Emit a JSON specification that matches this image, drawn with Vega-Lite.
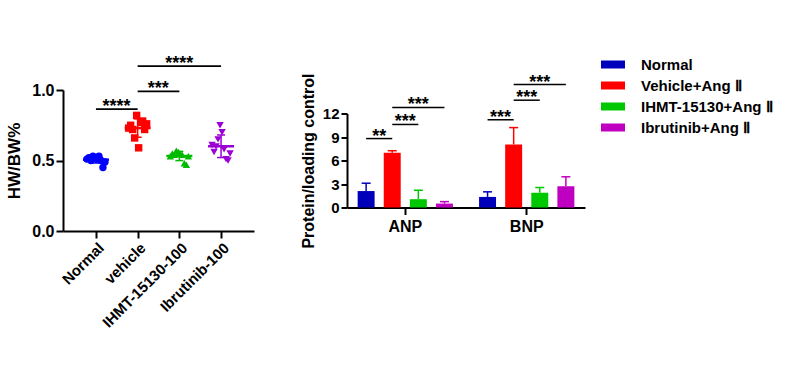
{
  "$schema": "https://vega.github.io/schema/vega-lite/v6.json",
  "background": "white",
  "padding": {"left": 5, "top": 55, "right": 5, "bottom": 5},
  "config": {
    "view": {"stroke": null},
    "axis": {"grid": false, "labelFont": "Liberation Sans", "titleFont": "Liberation Sans", "labelFontWeight": "bold", "titleFontWeight": "bold", "labelColor": "black", "titleColor": "black", "domainColor": "black", "tickColor": "black", "domainWidth": 2, "tickWidth": 2},
    "text": {"font": "Liberation Sans"}
  },
  "datasets": {
    "hw": [
      {"group": "Normal", "rep": 1, "value": 0.51},
      {"group": "Normal", "rep": 2, "value": 0.52},
      {"group": "Normal", "rep": 3, "value": 0.50},
      {"group": "Normal", "rep": 4, "value": 0.53},
      {"group": "Normal", "rep": 5, "value": 0.52},
      {"group": "Normal", "rep": 6, "value": 0.51},
      {"group": "Normal", "rep": 7, "value": 0.53},
      {"group": "Normal", "rep": 8, "value": 0.50},
      {"group": "Normal", "rep": 9, "value": 0.45},
      {"group": "Normal", "rep": 10, "value": 0.49},
      {"group": "vehicle", "rep": 1, "value": 0.73},
      {"group": "vehicle", "rep": 2, "value": 0.75},
      {"group": "vehicle", "rep": 3, "value": 0.72},
      {"group": "vehicle", "rep": 4, "value": 0.66},
      {"group": "vehicle", "rep": 5, "value": 0.82},
      {"group": "vehicle", "rep": 6, "value": 0.59},
      {"group": "vehicle", "rep": 7, "value": 0.77},
      {"group": "vehicle", "rep": 8, "value": 0.78},
      {"group": "vehicle", "rep": 9, "value": 0.72},
      {"group": "vehicle", "rep": 10, "value": 0.76},
      {"group": "IHMT-15130-100", "rep": 1, "value": 0.53},
      {"group": "IHMT-15130-100", "rep": 2, "value": 0.55},
      {"group": "IHMT-15130-100", "rep": 3, "value": 0.54},
      {"group": "IHMT-15130-100", "rep": 4, "value": 0.57},
      {"group": "IHMT-15130-100", "rep": 5, "value": 0.56},
      {"group": "IHMT-15130-100", "rep": 6, "value": 0.55},
      {"group": "IHMT-15130-100", "rep": 7, "value": 0.54},
      {"group": "IHMT-15130-100", "rep": 8, "value": 0.48},
      {"group": "IHMT-15130-100", "rep": 9, "value": 0.47},
      {"group": "IHMT-15130-100", "rep": 10, "value": 0.53},
      {"group": "Ibrutinib-100", "rep": 1, "value": 0.61},
      {"group": "Ibrutinib-100", "rep": 2, "value": 0.56},
      {"group": "Ibrutinib-100", "rep": 3, "value": 0.60},
      {"group": "Ibrutinib-100", "rep": 4, "value": 0.65},
      {"group": "Ibrutinib-100", "rep": 5, "value": 0.75},
      {"group": "Ibrutinib-100", "rep": 6, "value": 0.70},
      {"group": "Ibrutinib-100", "rep": 7, "value": 0.58},
      {"group": "Ibrutinib-100", "rep": 8, "value": 0.51},
      {"group": "Ibrutinib-100", "rep": 9, "value": 0.50},
      {"group": "Ibrutinib-100", "rep": 10, "value": 0.55}
    ],
    "sigL": [
      {"id": "a", "group": "Normal", "y": 0.865},
      {"id": "a", "group": "vehicle", "y": 0.865},
      {"id": "b", "group": "vehicle", "y": 0.99},
      {"id": "b", "group": "IHMT-15130-100", "y": 0.99},
      {"id": "c", "group": "vehicle", "y": 1.17},
      {"id": "c", "group": "Ibrutinib-100", "y": 1.17}
    ],
    "sigLtext": [
      {"group": "Normal", "y": 0.865, "label": "****", "shift": "half"},
      {"group": "vehicle", "y": 0.99, "label": "***", "shift": "half"},
      {"group": "IHMT-15130-100", "y": 1.17, "label": "****", "shift": "none"}
    ],
    "bars": [
      {"marker": "ANP", "series": "Normal", "value": 2.1, "upper": 3.1},
      {"marker": "ANP", "series": "Vehicle+Ang Ⅱ", "value": 7.0, "upper": 7.25},
      {"marker": "ANP", "series": "IHMT-15130+Ang Ⅱ", "value": 1.06, "upper": 2.2},
      {"marker": "ANP", "series": "Ibrutinib+Ang Ⅱ", "value": 0.5, "upper": 0.75},
      {"marker": "BNP", "series": "Normal", "value": 1.35, "upper": 2.0},
      {"marker": "BNP", "series": "Vehicle+Ang Ⅱ", "value": 8.05, "upper": 10.2},
      {"marker": "BNP", "series": "IHMT-15130+Ang Ⅱ", "value": 1.88, "upper": 2.55},
      {"marker": "BNP", "series": "Ibrutinib+Ang Ⅱ", "value": 2.72, "upper": 3.92}
    ],
    "sigR": [
      {"id": "a", "marker": "ANP", "series": "Normal", "y": 8.8},
      {"id": "a", "marker": "ANP", "series": "Vehicle+Ang Ⅱ", "y": 8.8},
      {"id": "b", "marker": "ANP", "series": "Vehicle+Ang Ⅱ", "y": 10.6},
      {"id": "b", "marker": "ANP", "series": "IHMT-15130+Ang Ⅱ", "y": 10.6},
      {"id": "c", "marker": "ANP", "series": "Vehicle+Ang Ⅱ", "y": 12.77},
      {"id": "c", "marker": "ANP", "series": "Ibrutinib+Ang Ⅱ", "y": 12.77},
      {"id": "d", "marker": "BNP", "series": "Normal", "y": 11.2},
      {"id": "d", "marker": "BNP", "series": "Vehicle+Ang Ⅱ", "y": 11.2},
      {"id": "e", "marker": "BNP", "series": "Vehicle+Ang Ⅱ", "y": 13.7},
      {"id": "e", "marker": "BNP", "series": "IHMT-15130+Ang Ⅱ", "y": 13.7},
      {"id": "f", "marker": "BNP", "series": "Vehicle+Ang Ⅱ", "y": 15.7},
      {"id": "f", "marker": "BNP", "series": "Ibrutinib+Ang Ⅱ", "y": 15.7}
    ],
    "sigRtext": [
      {"marker": "ANP", "series": "Normal", "y": 8.8, "label": "**", "shift": "half"},
      {"marker": "ANP", "series": "Vehicle+Ang Ⅱ", "y": 10.6, "label": "***", "shift": "half"},
      {"marker": "ANP", "series": "IHMT-15130+Ang Ⅱ", "y": 12.77, "label": "***", "shift": "none"},
      {"marker": "BNP", "series": "Normal", "y": 11.2, "label": "***", "shift": "half"},
      {"marker": "BNP", "series": "Vehicle+Ang Ⅱ", "y": 13.7, "label": "***", "shift": "half"},
      {"marker": "BNP", "series": "IHMT-15130+Ang Ⅱ", "y": 15.7, "label": "***", "shift": "none"}
    ]
  },
  "spacing": 93,
  "bounds": "flush",
  "center": true,
  "resolve": {"scale": {"color": "independent", "x": "independent", "y": "independent", "xOffset": "independent"}, "legend": {"color": "independent"}},
  "hconcat": [
    {
      "width": 191,
      "height": 141,
      "layer": [
        {
          "data": {"name": "hw"},
          "mark": {"type": "point", "filled": true, "opacity": 1, "size": 55},
          "encoding": {
            "x": {"field": "group", "type": "nominal", "title": null, "sort": null,
              "scale": {"type": "point", "domain": ["Normal", "vehicle", "IHMT-15130-100", "Ibrutinib-100"], "padding": 0.79},
              "axis": {"labelAngle": -45, "labelFontSize": 15, "tickSize": 7, "labelPadding": 2}},
            "xOffset": {"field": "rep", "type": "nominal", "scale": {"type": "point", "range": [-10, 10]}},
            "y": {"field": "value", "type": "quantitative", "title": "HW/BW%",
              "scale": {"domain": [0, 1]},
              "axis": {"values": [0, 0.25, 0.5, 0.75, 1], "labelExpr": "datum.value == 0.25 || datum.value == 0.75 ? '' : format(datum.value, '.1f')", "labelFontSize": 16, "tickSize": 7, "labelPadding": 2, "titleFontSize": 17, "titlePadding": 8}},
            "color": {"field": "group", "type": "nominal", "legend": null,
              "scale": {"domain": ["Normal", "vehicle", "IHMT-15130-100", "Ibrutinib-100"], "range": ["#0000FF", "#FF0000", "#00BB00", "#9B00D4"]}},
            "shape": {"field": "group", "type": "nominal", "legend": null,
              "scale": {"domain": ["Normal", "vehicle", "IHMT-15130-100", "Ibrutinib-100"], "range": ["circle", "square", "triangle-up", "triangle-down"]}}
          }
        },
        {
          "data": {"name": "hw"},
          "mark": {"type": "errorbar", "extent": "stdev", "thickness": 1.5, "rule": {"opacity": 1}, "ticks": {"size": 8, "thickness": 1.5, "opacity": 1}},
          "encoding": {
            "x": {"field": "group", "type": "nominal", "title": null},
            "y": {"field": "value", "type": "quantitative", "title": "HW/BW%"},
            "color": {"field": "group", "type": "nominal", "legend": null}
          }
        },
        {
          "data": {"name": "hw"},
          "mark": {"type": "tick", "size": 26, "thickness": 2.5, "opacity": 1},
          "encoding": {
            "x": {"field": "group", "type": "nominal", "title": null},
            "y": {"aggregate": "mean", "field": "value", "type": "quantitative", "title": "HW/BW%"},
            "color": {"field": "group", "type": "nominal", "legend": null}
          }
        },
        {
          "data": {"name": "sigL"},
          "mark": {"type": "line", "color": "black", "strokeWidth": 1.8},
          "encoding": {
            "x": {"field": "group", "type": "nominal", "title": null},
            "y": {"field": "y", "type": "quantitative", "title": "HW/BW%"},
            "detail": {"field": "id", "type": "nominal"}
          }
        },
        {
          "data": {"name": "sigLtext"},
          "transform": [{"filter": "datum.shift == 'half'"}],
          "mark": {"type": "text", "fontSize": 18, "fontWeight": "bold", "baseline": "alphabetic", "dx": 20.5, "dy": 3, "color": "black"},
          "encoding": {
            "x": {"field": "group", "type": "nominal", "title": null},
            "y": {"field": "y", "type": "quantitative", "title": "HW/BW%"},
            "text": {"field": "label"}
          }
        },
        {
          "data": {"name": "sigLtext"},
          "transform": [{"filter": "datum.shift == 'none'"}],
          "mark": {"type": "text", "fontSize": 18, "fontWeight": "bold", "baseline": "alphabetic", "dy": 3, "color": "black"},
          "encoding": {
            "x": {"field": "group", "type": "nominal", "title": null},
            "y": {"field": "y", "type": "quantitative", "title": "HW/BW%"},
            "text": {"field": "label"}
          }
        }
      ]
    },
    {
      "width": 238,
      "height": 94,
      "layer": [
        {
          "data": {"name": "bars"},
          "mark": {"type": "bar", "opacity": 1},
          "encoding": {
            "x": {"field": "marker", "type": "nominal", "title": null,
              "scale": {"domain": ["ANP", "BNP"], "paddingInner": 0.14, "paddingOuter": 0.05},
              "axis": {"labelAngle": 0, "labelFontSize": 16, "tickSize": 7, "labelPadding": 4}},
            "xOffset": {"field": "series", "type": "nominal",
              "scale": {"domain": ["Normal", "Vehicle+Ang Ⅱ", "IHMT-15130+Ang Ⅱ", "Ibrutinib+Ang Ⅱ"], "paddingInner": 0.35, "paddingOuter": 0.175}},
            "y": {"field": "value", "type": "quantitative", "title": "Protein/loading control",
              "scale": {"domain": [0, 12], "nice": false},
              "axis": {"values": [0, 3, 6, 9, 12], "tickCount": 5, "labelOverlap": false, "labelFontSize": 15, "tickSize": 6, "labelPadding": 2, "titleFontSize": 16, "titlePadding": 6}},
            "color": {"field": "series", "type": "nominal",
              "scale": {"domain": ["Normal", "Vehicle+Ang Ⅱ", "IHMT-15130+Ang Ⅱ", "Ibrutinib+Ang Ⅱ"], "range": ["#0000BB", "#FF0000", "#00C800", "#C000C0"]},
              "legend": {"orient": "none", "legendX": 258, "legendY": -57, "title": null, "padding": 0,
                "symbolType": "M-1.5,-0.5H1.5V0.5H-1.5Z", "symbolSize": 256, "symbolStrokeWidth": 0, "symbolOpacity": 1,
                "labelFont": "Liberation Sans", "labelFontWeight": "bold", "labelFontSize": 15, "labelColor": "black",
                "rowPadding": 5, "labelOffset": 20}}
          }
        },
        {
          "data": {"name": "bars"},
          "mark": {"type": "rule", "strokeWidth": 1.5, "opacity": 1},
          "encoding": {
            "x": {"field": "marker", "type": "nominal", "title": null},
            "xOffset": {"field": "series", "type": "nominal"},
            "y": {"field": "value", "type": "quantitative", "title": "Protein/loading control",
              "axis": {"values": [0, 3, 6, 9, 12], "tickCount": 5, "labelOverlap": false, "labelFontSize": 15, "tickSize": 6, "labelPadding": 2, "titleFontSize": 16, "titlePadding": 6}},
            "y2": {"field": "upper"},
            "color": {"field": "series", "type": "nominal"}
          }
        },
        {
          "data": {"name": "bars"},
          "mark": {"type": "tick", "size": 9, "thickness": 1.5, "opacity": 1},
          "encoding": {
            "x": {"field": "marker", "type": "nominal", "title": null},
            "xOffset": {"field": "series", "type": "nominal"},
            "y": {"field": "upper", "type": "quantitative", "title": "Protein/loading control",
              "axis": {"values": [0, 3, 6, 9, 12], "tickCount": 5, "labelOverlap": false, "labelFontSize": 15, "tickSize": 6, "labelPadding": 2, "titleFontSize": 16, "titlePadding": 6}},
            "color": {"field": "series", "type": "nominal"}
          }
        },
        {
          "data": {"name": "sigR"},
          "mark": {"type": "line", "color": "black", "strokeWidth": 1.5},
          "encoding": {
            "x": {"field": "marker", "type": "nominal", "title": null},
            "xOffset": {"field": "series", "type": "nominal"},
            "y": {"field": "y", "type": "quantitative", "title": "Protein/loading control",
              "axis": {"values": [0, 3, 6, 9, 12], "tickCount": 5, "labelOverlap": false, "labelFontSize": 15, "tickSize": 6, "labelPadding": 2, "titleFontSize": 16, "titlePadding": 6}},
            "detail": {"field": "id", "type": "nominal"}
          }
        },
        {
          "data": {"name": "sigRtext"},
          "transform": [{"filter": "datum.shift == 'half'"}],
          "mark": {"type": "text", "fontSize": 18, "fontWeight": "bold", "baseline": "alphabetic", "dx": 13, "dy": 3, "color": "black"},
          "encoding": {
            "x": {"field": "marker", "type": "nominal", "title": null},
            "xOffset": {"field": "series", "type": "nominal"},
            "y": {"field": "y", "type": "quantitative", "title": "Protein/loading control",
              "axis": {"values": [0, 3, 6, 9, 12], "tickCount": 5, "labelOverlap": false, "labelFontSize": 15, "tickSize": 6, "labelPadding": 2, "titleFontSize": 16, "titlePadding": 6}},
            "text": {"field": "label"}
          }
        },
        {
          "data": {"name": "sigRtext"},
          "transform": [{"filter": "datum.shift == 'none'"}],
          "mark": {"type": "text", "fontSize": 18, "fontWeight": "bold", "baseline": "alphabetic", "dy": 3, "color": "black"},
          "encoding": {
            "x": {"field": "marker", "type": "nominal", "title": null},
            "xOffset": {"field": "series", "type": "nominal"},
            "y": {"field": "y", "type": "quantitative", "title": "Protein/loading control",
              "axis": {"values": [0, 3, 6, 9, 12], "tickCount": 5, "labelOverlap": false, "labelFontSize": 15, "tickSize": 6, "labelPadding": 2, "titleFontSize": 16, "titlePadding": 6}},
            "text": {"field": "label"}
          }
        }
      ]
    }
  ]
}
